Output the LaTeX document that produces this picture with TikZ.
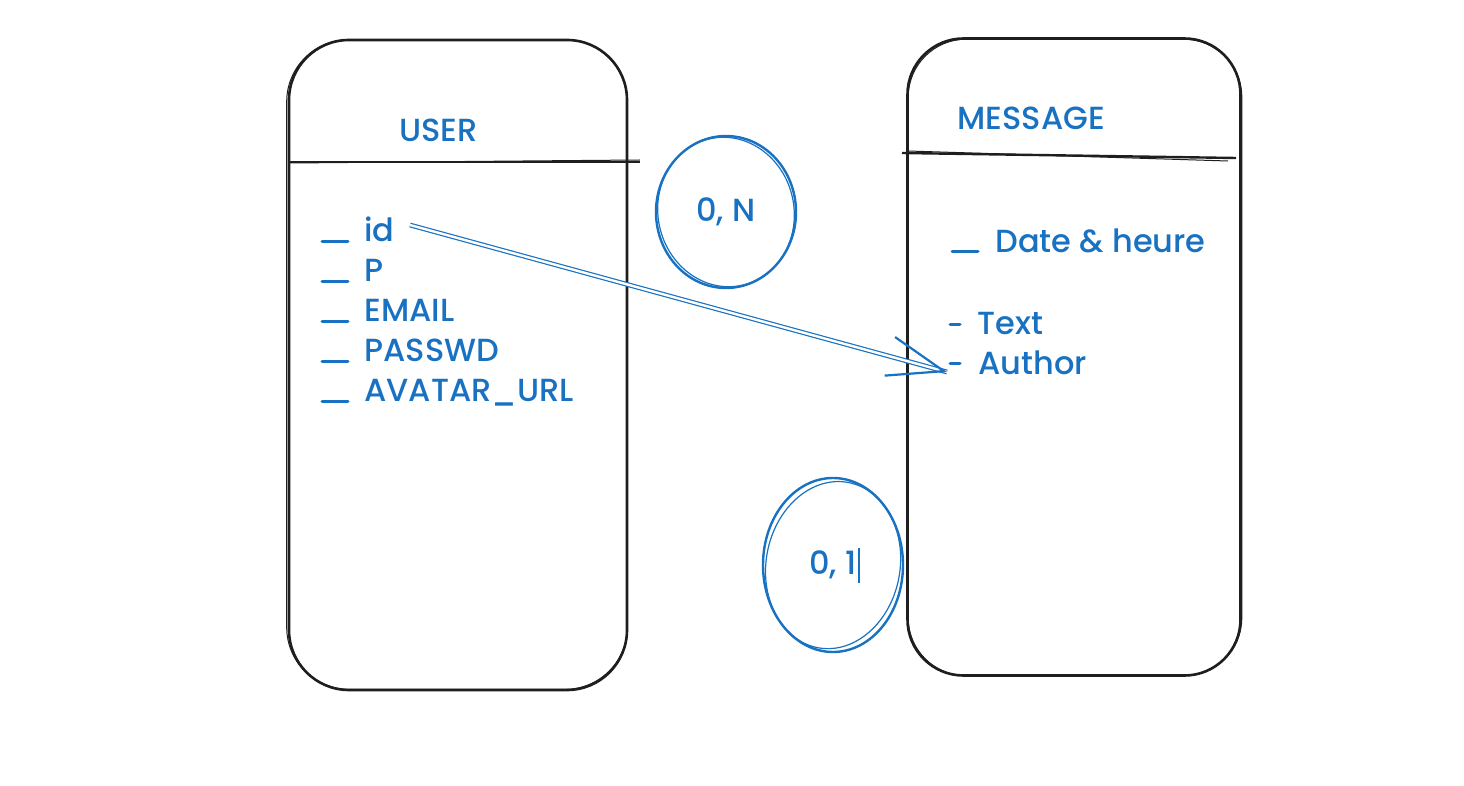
\documentclass[tikz,border=0pt]{standalone}
\usepackage{fontspec}
\setmainfont{Poppins}[UprightFont=* Medium]
\usetikzlibrary{arrows.meta,positioning,calc,shapes.geometric}
\definecolor{ink}{RGB}{30,30,30}
\definecolor{pen}{RGB}{25,113,194}
\tikzset{
  entity/.style={draw=ink,line width=1.3pt,inner sep=0pt},
  echo/.style={draw=ink,line width=0.5pt},
  hline/.style={draw=ink,line width=1.2pt},
  ttl/.style={text=pen,font=\fontsize{16}{19}\selectfont,anchor=base west,inner sep=0pt},
  attr/.style={text=pen,font=\fontsize{16}{19}\selectfont,anchor=base west,inner sep=0pt},
  tick/.style={draw=pen,line width=1.5pt,line cap=round},
  card/.style={ellipse,draw=pen,line width=1.2pt,inner sep=0pt,text=pen,font=\fontsize{16}{19}\selectfont},
  link/.style={draw=pen,line width=0.6pt,double=white,double distance=1.2pt},
  tip/.style={draw=pen,line width=1.1pt,-{Straight Barb[length=28pt,width=20pt]}},
}

\begin{document}
\begin{tikzpicture}[x=0.5pt,y=-0.5pt]
  \useasboundingbox (0,0) rectangle (1464,786);
  % entities
  \node[entity,rounded corners=30pt,minimum width=169pt,minimum height=325pt] (userbox) at (458,365) {};
  \node[entity,rounded corners=28pt,minimum width=166.5pt,minimum height=318.5pt] (msgbox) at (1074,357) {};
  \draw[echo,rounded corners=31pt] ($(userbox.south west)+(-1,-2)$) rectangle ($(userbox.north east)+(-1,1)$);
  \draw[echo,rounded corners=29pt] ($(msgbox.south west)+(2,-1)$) rectangle ($(msgbox.north east)+(0,2)$);
  \coordinate (userhd) at (290,162);
  \coordinate (msghd) at (902,153);
  \draw[hline] (userhd) -- ++(350,0);
  \draw[echo] ($(userhd)+(0,1)$) -- ++(350,-3);
  \draw[hline] (msghd) -- ++(334,5);
  \draw[echo] ($(msghd)+(6,-2)$) -- ++(320,10);
  \node[ttl] (user) at (399,142) {USER};
  \node[ttl] (message) at (957,130) {MESSAGE};
  % user attributes
  \foreach \t/\y [count=\i] in {id/242,P/282,EMAIL/322,PASSWD/362,AVATAR\_URL/402}{
    \draw[tick] (322,\y) -- (348,\y);
    \node[attr] (ua\i) at (364,\y) {\t};
  }
  % message attributes
  \draw[tick] (952,252) -- (978,252);
  \node[attr] (date) at (995,253) {Date \& heure};
  \draw[tick] (950,325) -- (960,325);
  \node[attr] (text) at (977,335) {Text};
  \draw[tick] (950,364) -- (960,364);
  \node[attr] (author) at (978,375) {Author};
  % cardinalities
  \node[card,minimum width=70pt,minimum height=76pt] (many) at (726,212) {0, N};
  \node[card,minimum width=70pt,minimum height=87pt] (one) at (833,565) {0, 1};
  \draw[pen,line width=0.6pt,rotate around={12:(many.center)}] (many.center) ellipse [x radius=68, y radius=75];
  \draw[pen,line width=0.6pt,rotate around={-10:(one.center)}] (one.center) ellipse [x radius=67, y radius=84];
  \draw[pen,line width=0.8pt] ($(one.center)+(26,-17)$) -- ++(0,35);
  % relation
  \coordinate (idtail) at (410,225);
  \coordinate (authin) at ($(author.base west)+(-31,-3)$);
  \draw[link] (idtail) -- (authin);
  \draw[tip] ($(idtail)!0.99!(authin)$) -- (authin);
\end{tikzpicture}
\end{document}
